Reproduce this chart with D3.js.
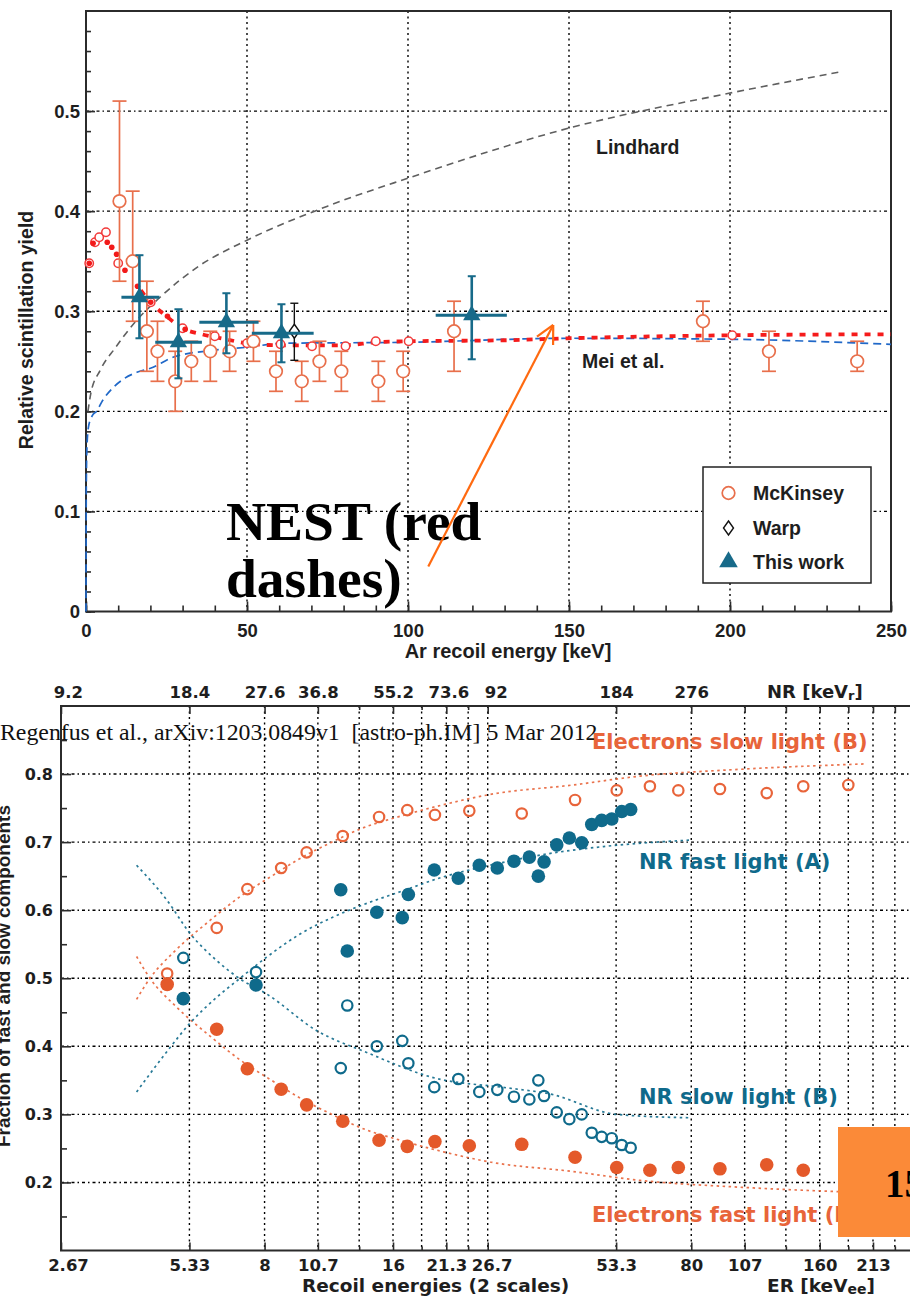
<!DOCTYPE html>
<html>
<head>
<meta charset="utf-8">
<script src="https://cdn.jsdelivr.net/npm/d3@7"></script>
<style>
  html, body { margin: 0; padding: 0; background: #fff; }
  svg { display: block; }
</style>
</head>
<body>
<svg id="fig" width="910" height="1296"></svg>
<script>
// ================= Upper panel: Ar recoil scintillation yield =================
// McKinsey measurements (open circles, vertical error bars)
const mckKeV   = [10.4, 14.5, 18.9, 22.2, 27.7, 32.7, 38.6, 44.6, 52.0, 59.0, 67.0, 72.5, 79.3, 90.8, 98.5, 114.3, 191.6, 212.1, 239.5];
const mckYield = [0.41, 0.35, 0.28, 0.26, 0.23, 0.25, 0.26, 0.26, 0.27, 0.24, 0.23, 0.25, 0.24, 0.23, 0.24, 0.28, 0.29, 0.26, 0.25];
const mckLow   = [0.33, 0.29, 0.24, 0.23, 0.20, 0.23, 0.23, 0.24, 0.25, 0.22, 0.21, 0.23, 0.22, 0.21, 0.22, 0.24, 0.27, 0.24, 0.24];
const mckHigh  = [0.51, 0.42, 0.33, 0.29, 0.26, 0.27, 0.28, 0.28, 0.29, 0.26, 0.25, 0.27, 0.26, 0.25, 0.26, 0.31, 0.31, 0.28, 0.27];

// Warp measurement (open diamond)
const warpKeV = [64.7];
const warpYield = [0.28];
const warpLow = [0.251];
const warpHigh = [0.308];

// This work (filled triangles, x and y error bars)
const twKeV     = [16.6, 28.7, 43.6, 60.7, 119.8];
const twYield   = [0.314, 0.269, 0.289, 0.278, 0.296];
const twLow     = [0.273, 0.233, 0.258, 0.249, 0.252];
const twHigh    = [0.356, 0.302, 0.318, 0.307, 0.335];
const twKeVLow  = [11.0, 21.5, 35.2, 51.5, 108.6];
const twKeVHigh = [22.8, 36.0, 53.6, 70.7, 130.7];

// Model curves
const lindhardKeV   = [0.6, 1.5, 4.4, 9, 15.2, 23, 35, 50, 75, 100, 150, 200, 234];
const lindhardYield = [0.200, 0.218, 0.241, 0.263, 0.289, 0.314, 0.345, 0.371, 0.405, 0.433, 0.483, 0.518, 0.539];
const meiKeV   = [0, 0.08, 0.3, 0.8, 2, 3.3, 5, 8.5, 12, 15.8, 20, 27, 39.5, 50, 61, 100, 150, 200, 250];
const meiYield = [0, 0.12, 0.165, 0.185, 0.196, 0.200, 0.210, 0.224, 0.233, 0.239, 0.243, 0.254, 0.261, 0.264, 0.268, 0.269, 0.273, 0.272, 0.267];
const nestKeV   = [17, 20, 25, 30, 36, 42, 50, 60, 80, 90, 100, 130, 150, 200, 250];
const nestYield = [0.321, 0.309, 0.295, 0.283, 0.277, 0.273, 0.268, 0.266, 0.266, 0.269, 0.270, 0.271, 0.273, 0.276, 0.277];
const nestDotKeV   = [1.0, 2.2, 6.6, 8.0, 9.5, 12.1, 16.0, 20.1, 25.3, 30.8];
const nestDotYield = [0.348, 0.368, 0.369, 0.364, 0.357, 0.341, 0.325, 0.309, 0.295, 0.282];
const nestRingKeV   = [1.0, 2.8, 4.1, 6.2, 10.0, 20.1, 30.0, 40.0, 50.0, 60.4, 70.2, 80.6, 90.0, 100.2, 200.7];
const nestRingYield = [0.348, 0.369, 0.374, 0.379, 0.348, 0.309, 0.283, 0.275, 0.268, 0.267, 0.265, 0.265, 0.270, 0.270, 0.276];

const xTicksA = [0, 50, 100, 150, 200, 250];
const yTicksA = [0, 0.1, 0.2, 0.3, 0.4, 0.5];

// ================= Lower panel: fast / slow light fractions =================
// Electron recoils (orange): slow component open, fast component filled
const eKeVee  = [4.73, 6.18, 7.29, 8.75, 10.04, 12.20, 14.84, 17.28, 20.06, 24.15, 32.05, 42.73, 53.5, 64.0, 74.6, 93.4, 120.2, 146.4, 186.7];
const eSlow   = [0.507, 0.574, 0.631, 0.662, 0.685, 0.709, 0.737, 0.747, 0.740, 0.746, 0.742, 0.762, 0.776, 0.782, 0.776, 0.778, 0.772, 0.782, 0.784];
const eFast   = [0.491, 0.425, 0.367, 0.337, 0.314, 0.290, 0.262, 0.253, 0.260, 0.254, 0.256, 0.237, 0.222, 0.218, 0.222, 0.220, 0.226, 0.218];
// Nuclear recoils (teal): fast component filled, slow component open
const nrKeVee = [5.16, 7.64, 12.07, 12.50, 14.66, 16.82, 17.38, 19.99, 22.76, 25.49, 28.09, 30.73, 33.39, 35.05, 36.15, 38.71, 41.43, 44.30, 46.76, 49.34, 52.09, 54.97, 57.69];
const nrFast  = [0.470, 0.490, 0.630, 0.540, 0.597, 0.589, 0.623, 0.659, 0.647, 0.666, 0.662, 0.672, 0.678, 0.650, 0.671, 0.696, 0.706, 0.699, 0.726, 0.732, 0.734, 0.745, 0.748];
const nrSlow  = [0.530, 0.509, 0.368, 0.460, 0.400, 0.408, 0.375, 0.340, 0.352, 0.333, 0.336, 0.326, 0.322, 0.350, 0.327, 0.303, 0.293, 0.300, 0.273, 0.267, 0.265, 0.255, 0.251];

// Fitted trends (dotted)
const eFitKeVee = [4.01, 4.31, 4.93, 5.96, 7.01, 8.31, 9.69, 11.59, 13.88, 16.02, 21.0, 27.0, 42.3, 60.7, 104, 206];
const eSlowFit  = [0.469, 0.500, 0.540, 0.585, 0.620, 0.650, 0.676, 0.701, 0.723, 0.735, 0.755, 0.770, 0.784, 0.797, 0.807, 0.815];
const eFastFit  = [0.532, 0.500, 0.460, 0.415, 0.380, 0.350, 0.324, 0.299, 0.277, 0.265, 0.245, 0.230, 0.216, 0.203, 0.193, 0.185];
const nrFastFitKeVee = [4.01, 4.72, 5.35, 6.18, 7.01, 8.09, 9.69, 11.59, 13.88, 16.62, 21.0, 27.0, 35.4, 50.7, 79.5];
const nrFastFit      = [0.333, 0.392, 0.434, 0.472, 0.500, 0.531, 0.565, 0.590, 0.610, 0.627, 0.649, 0.666, 0.681, 0.694, 0.703];
const nrSlowFitKeVee = [4.01, 4.72, 5.35, 6.18, 7.01, 8.09, 10.6, 13.88, 19.88, 29.55, 37.3, 53.5, 79.5];
const nrSlowFit      = [0.666, 0.615, 0.566, 0.526, 0.499, 0.477, 0.423, 0.391, 0.354, 0.339, 0.330, 0.300, 0.295];

// Axis ticks: electron-equivalent (bottom) and nuclear recoil (top) energies
const erTickValues = [2.667, 5.333, 8, 10.667, 16, 21.33, 26.67, 53.33, 80, 106.7, 160, 213.3];
const erTickLabels = ["2.67", "5.33", "8", "10.7", "16", "21.3", "26.7", "53.3", "80", "107", "160", "213"];
const erMinorTicks = [13.33, 18.67, 24, 133.3, 186.7, 240];
const erGrid = [5.333, 8, 10.667, 13.33, 16, 18.67, 21.33, 24, 26.67, 53.33, 80, 106.7, 133.3, 160, 186.7, 213.3, 240];
const nrTickValues = [9.2, 18.4, 27.6, 36.8, 55.2, 73.6, 92, 184, 276];
const nrTickLabels = ["9.2", "18.4", "27.6", "36.8", "55.2", "73.6", "92", "184", "276"];
const nrPerKeVee = 3.45;
const fracTicks = [0.2, 0.3, 0.4, 0.5, 0.6, 0.7, 0.8];
const fracMinor = [0.15, 0.25, 0.35, 0.45, 0.55, 0.65, 0.75, 0.85];

// ---------------------------------------------------------------------------
const svg = d3.select("#fig");
const SANS = "'Liberation Sans', Arial, Helvetica, sans-serif";
const WIDE = "'DejaVu Sans', Verdana, sans-serif";
const SERIF = "'Liberation Serif', 'Times New Roman', serif";
const AXIS = "#2b2b2b";

function styleAxis(g, font, size) {
  g.select(".domain").remove();
  g.selectAll(".tick line").attr("stroke", AXIS).attr("stroke-width", 1.6);
  g.selectAll(".tick text")
    .attr("font-family", font).attr("font-size", size)
    .attr("font-weight", "bold").attr("fill", "#1e1e1e");
}
// crowded log-axis labels are pushed sideways a little so they do not collide
const labelShift = { "2.67": 7, "9.2": 7, "26.7": 4, "92": 8, "73.6": 2 };
function shiftLabels(g, labels) {
  g.selectAll(".tick text").attr("dx", (d, i) => labelShift[labels[i]] || 0);
}

// ========================= Upper panel =========================
const xA = d3.scaleLinear().domain([0, 250]).range([86, 891]);
const yA = d3.scaleLinear().domain([0, 0.6]).range([611.5, 11]);
const up = svg.append("g");

// dotted grid
up.append("g").selectAll("line").data(xTicksA.slice(1, -1)).join("line")
  .attr("x1", d => xA(d)).attr("x2", d => xA(d))
  .attr("y1", yA(0.6)).attr("y2", yA(0))
  .attr("stroke", "#000").attr("stroke-width", 1.4).attr("stroke-dasharray", "2,3.5");
up.append("g").selectAll("line").data(yTicksA.slice(1)).join("line")
  .attr("x1", xA(0)).attr("x2", xA(250))
  .attr("y1", d => yA(d)).attr("y2", d => yA(d))
  .attr("stroke", "#000").attr("stroke-width", 1.4).attr("stroke-dasharray", "3,3,1.5,3");

// minor and major ticks
const tickA = up.append("g");
tickA.append("g").attr("transform", `translate(0,${yA(0)})`)
  .call(d3.axisBottom(xA).tickValues(d3.range(0, 251, 10)).tickSize(-6).tickFormat(""))
  .call(g => styleAxis(g, SANS, 18));
tickA.append("g").attr("transform", `translate(0,${yA(0)})`)
  .call(d3.axisBottom(xA).tickValues(xTicksA).tickSize(-10).tickPadding(12).tickFormat(d3.format("d")))
  .call(g => styleAxis(g, SANS, 18.5));
tickA.append("g").attr("transform", `translate(${xA(0)},0)`)
  .call(d3.axisLeft(yA).tickValues(d3.range(0, 0.59, 0.02)).tickSize(-5).tickFormat(""))
  .call(g => styleAxis(g, SANS, 18));
tickA.append("g").attr("transform", `translate(${xA(0)},0)`)
  .call(d3.axisLeft(yA).tickValues(yTicksA).tickSize(-9).tickPadding(6).tickFormat(d => d === 0 ? "0" : d3.format(".1f")(d)))
  .call(g => styleAxis(g, SANS, 18.5));

// frame
up.append("rect").attr("x", xA(0)).attr("y", yA(0.6)).attr("width", xA(250) - xA(0)).attr("height", yA(0) - yA(0.6))
  .attr("fill", "none").attr("stroke", AXIS).attr("stroke-width", 2);

// model curves
const lineA = (xs, ys) => d3.line().x((d, i) => xA(xs[i])).y((d, i) => yA(ys[i])).curve(d3.curveMonotoneX)(xs);
up.append("path").attr("d", lineA(lindhardKeV, lindhardYield))
  .attr("fill", "none").attr("stroke", "#5f5f5f").attr("stroke-width", 1.6).attr("stroke-dasharray", "7,5");
up.append("path").attr("d", lineA(meiKeV, meiYield))
  .attr("fill", "none").attr("stroke", "#2068c8").attr("stroke-width", 1.7).attr("stroke-dasharray", "8,5");
up.append("path").attr("d", lineA(nestKeV, nestYield))
  .attr("fill", "none").attr("stroke", "#f51b1b").attr("stroke-width", 3.8).attr("stroke-dasharray", "6,7");
up.append("g").selectAll("circle").data(nestRingKeV).join("circle")
  .attr("cx", d => xA(d)).attr("cy", (d, i) => yA(nestRingYield[i])).attr("r", 4.2)
  .attr("fill", "#fff").attr("stroke", "#f23a3a").attr("stroke-width", 1.5);
up.append("g").selectAll("circle").data(nestDotKeV).join("circle")
  .attr("cx", d => xA(d)).attr("cy", (d, i) => yA(nestDotYield[i])).attr("r", 2.8)
  .attr("fill", "#f21a1a");

// McKinsey points
const MCK = "#e86f4b";
const mck = up.append("g").attr("stroke", MCK).attr("stroke-width", 1.7);
mckKeV.forEach((k, i) => {
  const cx = xA(k);
  mck.append("line").attr("x1", cx).attr("x2", cx).attr("y1", yA(mckLow[i])).attr("y2", yA(mckHigh[i]));
  [mckLow[i], mckHigh[i]].forEach(v =>
    mck.append("line").attr("x1", cx - 7).attr("x2", cx + 7).attr("y1", yA(v)).attr("y2", yA(v)));
  mck.append("circle").attr("cx", cx).attr("cy", yA(mckYield[i])).attr("r", 6.3).attr("fill", "#fff");
});

// Warp point
const diamond = "M0,-7L5,0L0,7L-5,0Z";
const warp = up.append("g").attr("stroke", "#111").attr("stroke-width", 1.4);
warpKeV.forEach((k, i) => {
  const cx = xA(k);
  warp.append("line").attr("x1", cx).attr("x2", cx).attr("y1", yA(warpLow[i])).attr("y2", yA(warpHigh[i]));
  [warpLow[i], warpHigh[i]].forEach(v =>
    warp.append("line").attr("x1", cx - 4).attr("x2", cx + 4).attr("y1", yA(v)).attr("y2", yA(v)));
  warp.append("path").attr("d", diamond).attr("transform", `translate(${cx},${yA(warpYield[i])})`).attr("fill", "#fff");
});

// This work
const TW = "#176a89";
const tw = up.append("g").attr("stroke", TW);
const tri = d3.symbol().type(d3.symbolTriangle).size(130)();
twKeV.forEach((k, i) => {
  const cx = xA(k), cy = yA(twYield[i]);
  tw.append("line").attr("x1", xA(twKeVLow[i])).attr("x2", xA(twKeVHigh[i])).attr("y1", cy).attr("y2", cy).attr("stroke-width", 3);
  tw.append("line").attr("x1", cx).attr("x2", cx).attr("y1", yA(twLow[i])).attr("y2", yA(twHigh[i])).attr("stroke-width", 2.6);
  [twLow[i], twHigh[i]].forEach(v =>
    tw.append("line").attr("x1", cx - 4).attr("x2", cx + 4).attr("y1", yA(v)).attr("y2", yA(v)).attr("stroke-width", 2));
  tw.append("path").attr("d", tri).attr("transform", `translate(${cx},${cy})`).attr("fill", TW).attr("stroke", "none");
});

// axis titles
up.append("text").attr("transform", `translate(33,330) rotate(-90)`).attr("text-anchor", "middle")
  .attr("font-family", SANS).attr("font-weight", "bold").attr("font-size", 19.5).attr("fill", "#1e1e1e")
  .text("Relative scintillation yield");
up.append("text").attr("x", 508).attr("y", 658).attr("text-anchor", "middle")
  .attr("font-family", SANS).attr("font-weight", "bold").attr("font-size", 20).attr("fill", "#1e1e1e")
  .text("Ar recoil energy [keV]");

// curve labels
up.append("text").attr("x", 596).attr("y", 154)
  .attr("font-family", SANS).attr("font-weight", "bold").attr("font-size", 19.5).attr("fill", "#1e1e1e").text("Lindhard");
up.append("text").attr("x", 582).attr("y", 368)
  .attr("font-family", SANS).attr("font-weight", "bold").attr("font-size", 19.5).attr("fill", "#1e1e1e").text("Mei et al.");

// legend
const leg = up.append("g");
leg.append("rect").attr("x", 703).attr("y", 467).attr("width", 168).attr("height", 116)
  .attr("fill", "#fff").attr("stroke", "#222").attr("stroke-width", 1.5);
leg.append("circle").attr("cx", 728.5).attr("cy", 493).attr("r", 6.3).attr("fill", "#fff").attr("stroke", MCK).attr("stroke-width", 1.7);
leg.append("path").attr("d", diamond).attr("transform", "translate(728.5,528)").attr("fill", "#fff").attr("stroke", "#111").attr("stroke-width", 1.4);
leg.append("path").attr("d", d3.symbol().type(d3.symbolTriangle).size(150)()).attr("transform", "translate(728.5,562)").attr("fill", TW);
[["McKinsey", 500], ["Warp", 535], ["This work", 569]].forEach(([t, y]) =>
  leg.append("text").attr("x", 753).attr("y", y)
    .attr("font-family", SANS).attr("font-weight", "bold").attr("font-size", 19.5).attr("fill", "#1e1e1e").text(t));

// NEST annotation with arrow
const ann = up.append("g");
ann.append("text").attr("x", 226).attr("y", 540)
  .attr("font-family", SERIF).attr("font-weight", "bold").attr("font-size", 55.5).attr("fill", "#000").text("NEST (red");
ann.append("text").attr("x", 226).attr("y", 597)
  .attr("font-family", SERIF).attr("font-weight", "bold").attr("font-size", 55.5).attr("fill", "#000").text("dashes)");
const tail = [xA(106.3), yA(0.045)], tip = [xA(145.1), yA(0.2863)];
const ang = Math.atan2(tail[1] - tip[1], tail[0] - tip[0]);
const headLen = 20, headAng = 27 * Math.PI / 180;
const ARROW = "#ff6a10";
ann.append("line").attr("x1", tail[0]).attr("y1", tail[1]).attr("x2", tip[0]).attr("y2", tip[1])
  .attr("stroke", ARROW).attr("stroke-width", 2.2);
[-1, 1].forEach(s =>
  ann.append("line").attr("x1", tip[0]).attr("y1", tip[1])
    .attr("x2", tip[0] + headLen * Math.cos(ang + s * headAng))
    .attr("y2", tip[1] + headLen * Math.sin(ang + s * headAng))
    .attr("stroke", ARROW).attr("stroke-width", 2.2));

// ========================= Lower panel =========================
const xB = d3.scaleLog().domain([2.667, 266.7]).range([61, 914.4]);
const yB = d3.scaleLinear().domain([0.1, 0.9]).range([1250.5, 706]);
const low = svg.append("g");

low.append("g").selectAll("line").data(erGrid).join("line")
  .attr("x1", d => xB(d)).attr("x2", d => xB(d)).attr("y1", yB(0.9)).attr("y2", yB(0.1))
  .attr("stroke", "#000").attr("stroke-width", 1.4).attr("stroke-dasharray", "2,3.5");
low.append("g").selectAll("line").data(fracTicks).join("line")
  .attr("x1", xB(2.667)).attr("x2", 910).attr("y1", d => yB(d)).attr("y2", d => yB(d))
  .attr("stroke", "#000").attr("stroke-width", 1.4).attr("stroke-dasharray", "3,3,1.5,3");

// header stamp
low.append("text").attr("x", 0).attr("y", 740).style("white-space", "pre")
  .attr("font-family", SERIF).attr("font-size", 23.8).attr("fill", "#111")
  .text("Regenfus et al., arXiv:1203.0849v1  [astro-ph.IM] 5 Mar 2012");

// fits
const ORF = "#e4592a", ORO = "#e8643a", TEAL = "#0f6a8b";
const lineB = (xs, ys) => d3.line().x((d, i) => xB(xs[i])).y((d, i) => yB(ys[i])).curve(d3.curveMonotoneX)(xs);
[[eFitKeVee, eSlowFit, ORO], [eFitKeVee, eFastFit, ORO], [nrFastFitKeVee, nrFastFit, TEAL], [nrSlowFitKeVee, nrSlowFit, TEAL]]
  .forEach(([xs, ys, c]) => low.append("path").attr("d", lineB(xs, ys))
    .attr("fill", "none").attr("stroke", c).attr("stroke-width", 1.7).attr("stroke-dasharray", "2.5,3.5").attr("opacity", 0.9));

// points
low.append("g").selectAll("circle").data(eSlow).join("circle")
  .attr("cx", (d, i) => xB(eKeVee[i])).attr("cy", d => yB(d)).attr("r", 5.2)
  .attr("fill", "none").attr("stroke", ORO).attr("stroke-width", 2.2);
low.append("g").selectAll("circle").data(eFast).join("circle")
  .attr("cx", (d, i) => xB(eKeVee[i])).attr("cy", d => yB(d)).attr("r", 6.8).attr("fill", ORF);
low.append("g").selectAll("circle").data(nrSlow).join("circle")
  .attr("cx", (d, i) => xB(nrKeVee[i])).attr("cy", d => yB(d)).attr("r", 5.2)
  .attr("fill", "none").attr("stroke", TEAL).attr("stroke-width", 2.2);
low.append("g").selectAll("circle").data(nrFast).join("circle")
  .attr("cx", (d, i) => xB(nrKeVee[i])).attr("cy", d => yB(d)).attr("r", 6.8).attr("fill", TEAL);

// axes
const tickB = low.append("g");
tickB.append("g").attr("transform", `translate(0,${yB(0.1)})`)
  .call(d3.axisBottom(xB).tickValues(erMinorTicks).tickSize(-4).tickFormat(""))
  .call(g => styleAxis(g, WIDE, 16.5));
tickB.append("g").attr("transform", `translate(0,${yB(0.1)})`)
  .call(d3.axisBottom(xB).tickValues(erTickValues).tickSize(-8).tickPadding(9).tickFormat((d, i) => erTickLabels[i]))
  .call(g => styleAxis(g, WIDE, 16.5))
  .call(g => shiftLabels(g, erTickLabels));
tickB.append("g").attr("transform", `translate(0,${yB(0.9)})`)
  .call(d3.axisTop(xB).tickValues(erGrid.filter(v => v > 80)).tickSize(-7).tickFormat(""))
  .call(g => styleAxis(g, WIDE, 16.5));
tickB.append("g").attr("transform", `translate(0,${yB(0.9)})`)
  .call(d3.axisTop(xB).tickValues(erMinorTicks.slice(0, 3)).tickSize(-4).tickFormat(""))
  .call(g => styleAxis(g, WIDE, 16.5));
tickB.append("g").attr("transform", `translate(0,${yB(0.9)})`)
  .call(d3.axisTop(xB).tickValues(nrTickValues.map(v => v / nrPerKeVee)).tickSize(-8).tickPadding(8).tickFormat((d, i) => nrTickLabels[i]))
  .call(g => styleAxis(g, WIDE, 16.5))
  .call(g => shiftLabels(g, nrTickLabels));
tickB.append("g").attr("transform", `translate(${xB(2.667)},0)`)
  .call(d3.axisLeft(yB).tickValues(fracMinor).tickSize(-6).tickFormat(""))
  .call(g => styleAxis(g, WIDE, 16));
tickB.append("g").attr("transform", `translate(${xB(2.667)},0)`)
  .call(d3.axisLeft(yB).tickValues(fracTicks).tickSize(-10).tickPadding(8).tickFormat(d3.format(".1f")))
  .call(g => styleAxis(g, WIDE, 16));

// frame (right side runs off the page)
low.append("path")
  .attr("d", `M910,${yB(0.9)}H${xB(2.667)}V${yB(0.1)}H910`)
  .attr("fill", "none").attr("stroke", AXIS).attr("stroke-width", 2);

// axis titles
low.append("text").attr("transform", `translate(10,976) rotate(-90)`).attr("text-anchor", "middle")
  .attr("font-family", SANS).attr("font-weight", "bold").attr("font-size", 19).attr("fill", "#1e1e1e")
  .text("Fraction of fast and slow components");
low.append("text").attr("x", 302).attr("y", 1292)
  .attr("font-family", WIDE).attr("font-weight", "bold").attr("font-size", 18.5).attr("fill", "#1e1e1e")
  .text("Recoil energies (2 scales)");
const erT = low.append("text").attr("x", 767).attr("y", 1292)
  .attr("font-family", WIDE).attr("font-weight", "bold").attr("font-size", 18.5).attr("fill", "#1e1e1e");
erT.append("tspan").text("ER [keV");
erT.append("tspan").attr("font-size", 14).attr("dy", 2).text("ee");
erT.append("tspan").attr("dy", -2).text("]");
const nrT = low.append("text").attr("x", 767).attr("y", 697.5)
  .attr("font-family", WIDE).attr("font-weight", "bold").attr("font-size", 18).attr("fill", "#1e1e1e");
nrT.append("tspan").text("NR [keV");
nrT.append("tspan").attr("font-size", 13).attr("dy", 2).text("r");
nrT.append("tspan").attr("dy", -2).text("]");

// series labels
const lab = (t, x, y, c) => low.append("text").attr("x", x).attr("y", y)
  .attr("font-family", WIDE).attr("font-weight", "bold").attr("font-size", 21).attr("fill", c).text(t);
lab("Electrons slow light (B)", 592, 749, ORO);
lab("NR fast light (A)", 639, 869, TEAL);
lab("NR slow light (B)", 639, 1104, TEAL);
lab("Electrons fast light (B)", 592, 1222, ORO);

// slide number badge
low.append("rect").attr("x", 838).attr("y", 1127).attr("width", 80).attr("height", 110).attr("fill", "#fb8a38");
low.append("text").attr("x", 885).attr("y", 1197)
  .attr("font-family", SERIF).attr("font-weight", "bold").attr("font-size", 39).attr("fill", "#000").text("15");
</script>
</body>
</html>
